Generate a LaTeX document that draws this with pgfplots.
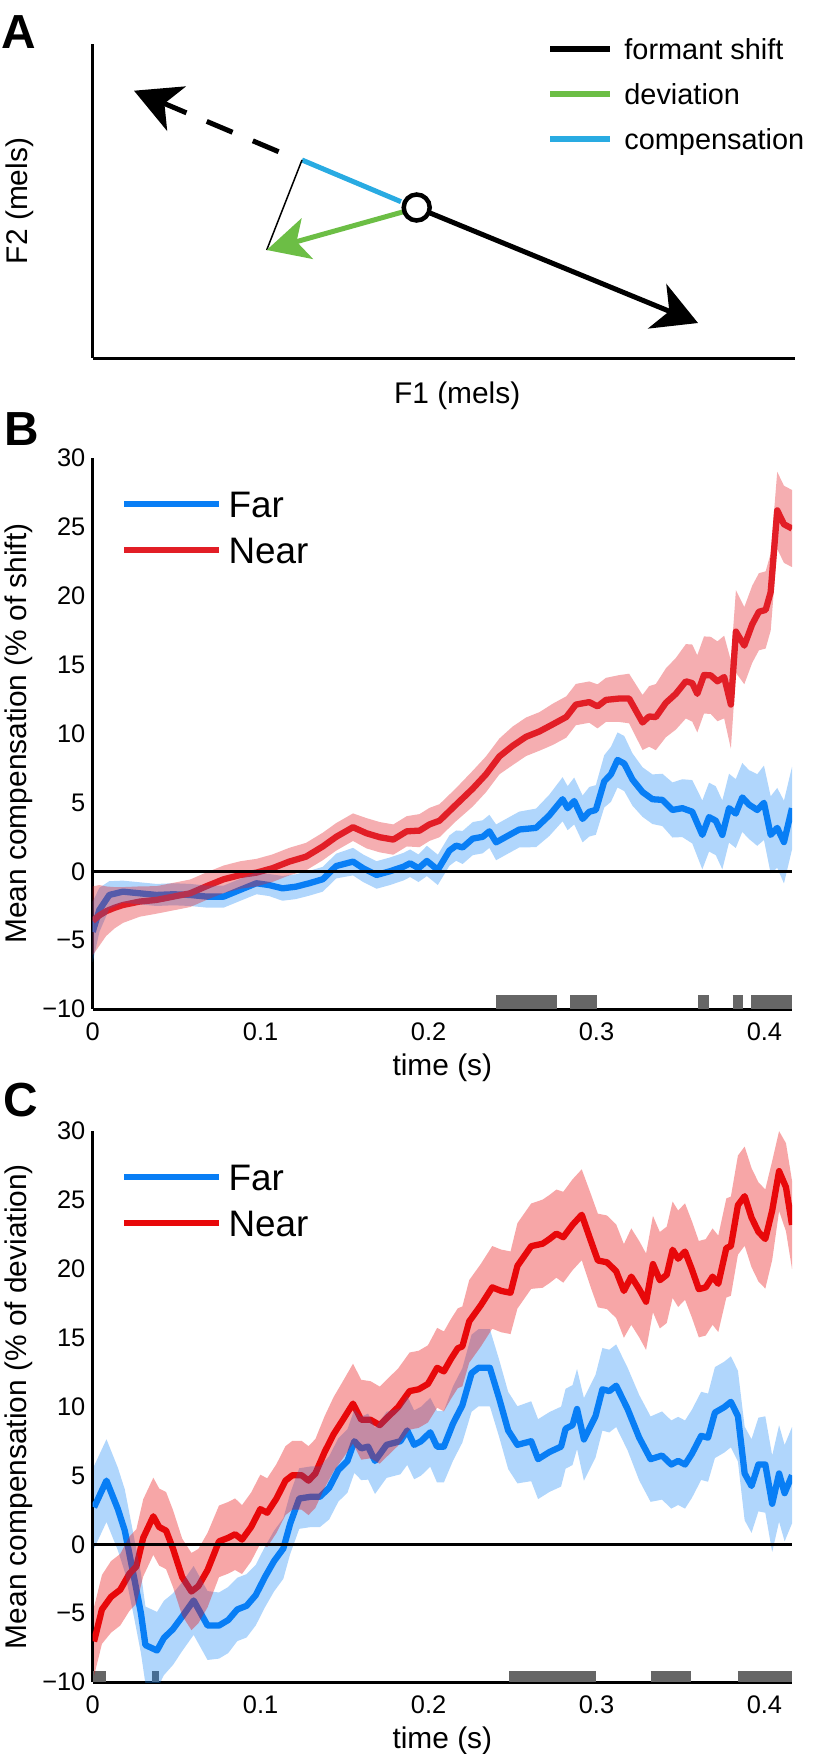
\documentclass[border=0pt]{standalone}
\usepackage{fontspec}
\setmainfont{Liberation Sans}
\usepackage{pgfplots}
\usepackage{pgfplotstable}
\pgfplotsset{compat=1.18}
\usetikzlibrary{arrows.meta}

\definecolor{cblue}{RGB}{8,126,245}
\definecolor{credB}{RGB}{226,30,38}
\definecolor{credC}{RGB}{232,8,10}
\definecolor{sgray}{RGB}{102,102,102}
\definecolor{cgreen}{RGB}{108,190,69}
\definecolor{ccyan}{RGB}{41,171,226}

\pgfplotstableread{
t v e
0.000 -4.4 2.2
0.004 -2.8 1.6
0.0099 -1.72 1.0
0.018 -1.48 0.8
0.028 -1.6 0.8
0.038 -1.72 0.8
0.048 -1.67 0.8
0.058 -1.72 0.8
0.068 -1.84 0.8
0.078 -1.84 0.8
0.0876 -1.36 0.8
0.0975 -0.87 0.8
0.105 -1.0 0.8
0.113 -1.24 0.9
0.121 -1.12 0.9
0.129 -0.87 0.9
0.137 -0.58 0.9
0.145 0.38 0.9
0.155 0.7 1.0
0.161 0.22 1.0
0.169 -0.27 1.0
0.177 0.0 1.0
0.185 0.33 1.0
0.189 0.58 1.0
0.194 0.22 1.0
0.199 0.75 1.1
0.2055 0.1 1.1
0.2124 1.5 1.1
0.2164 1.86 1.1
0.2203 1.73 1.2
0.2263 2.37 1.2
0.2322 2.5 1.2
0.2362 2.9 1.2
0.2402 2.1 1.3
0.2461 2.5 1.3
0.254 3.03 1.3
0.264 3.15 1.4
0.2719 4.06 1.5
0.2798 5.23 1.6
0.2828 4.58 1.6
0.2867 5.1 1.7
0.2917 3.8 1.7
0.2957 4.32 1.8
0.2996 4.45 1.8
0.3046 6.53 1.9
0.3086 7.04 2.0
0.3125 8.08 2.0
0.3165 7.82 2.0
0.3214 6.66 1.9
0.3274 5.75 1.8
0.3333 5.23 1.8
0.3392 5.18 1.9
0.3452 4.45 2.0
0.3511 4.58 2.1
0.357 4.32 2.3
0.363 2.64 2.5
0.367 3.93 2.5
0.371 3.67 2.5
0.3749 2.64 2.5
0.3789 4.58 2.5
0.3829 4.19 2.5
0.3868 5.36 2.5
0.3908 4.84 2.5
0.3957 4.45 2.6
0.3997 4.97 2.7
0.4037 2.64 2.8
0.4076 3.15 2.9
0.4116 2.12 3.0
0.4164 4.58 3.0
}\BFar

\pgfplotstableread{
t v e
0.000 -3.6 2.5
0.004 -3.2 2.2
0.008 -2.9 1.8
0.013 -2.65 1.5
0.018 -2.45 1.3
0.028 -2.2 1.1
0.038 -2.08 1.0
0.048 -1.84 1.0
0.058 -1.6 1.0
0.068 -1.07 1.0
0.078 -0.58 1.0
0.088 -0.27 1.0
0.0975 -0.1 1.0
0.107 0.22 1.0
0.117 0.7 1.0
0.127 1.06 1.0
0.137 1.8 1.0
0.145 2.5 1.0
0.155 3.2 1.0
0.163 2.76 1.1
0.171 2.47 1.1
0.179 2.3 1.1
0.187 2.9 1.1
0.1946 2.95 1.2
0.2005 3.4 1.2
0.2065 3.67 1.2
0.2164 4.84 1.2
0.2263 6.0 1.3
0.2342 7.04 1.3
0.2422 8.34 1.3
0.25 9.1 1.4
0.258 9.76 1.4
0.266 10.15 1.4
0.274 10.67 1.5
0.282 11.2 1.5
0.2877 12.1 1.5
0.2957 12.28 1.5
0.3006 11.97 1.6
0.3056 12.44 1.6
0.3135 12.54 1.7
0.3194 12.54 1.8
0.3274 10.8 2.0
0.3313 11.24 2.2
0.3353 11.19 2.4
0.3413 12.23 2.5
0.3472 12.88 2.6
0.3532 13.79 2.7
0.357 13.66 2.8
0.36 12.88 2.8
0.364 14.25 2.8
0.368 14.22 2.8
0.372 13.79 2.9
0.376 14.1 3.0
0.380 12.1 3.2
0.383 17.4 3.0
0.388 16.38 2.8
0.3927 17.93 2.8
0.3967 18.84 2.8
0.4007 18.97 2.8
0.4037 20.27 2.8
0.4076 26.2 2.8
0.4116 25.19 2.8
0.4164 24.88 2.8
}\BNear

\pgfplotstableread{
t v e
0.0008 2.68 3.0
0.0082 4.62 3.0
0.015 2.55 3.0
0.0191 0.99 3.0
0.0246 -2.39 2.9
0.0287 -4.99 2.9
0.0314 -7.32 2.8
0.0383 -7.71 2.8
0.0424 -6.8 2.7
0.0478 -6.16 2.6
0.0533 -5.25 2.5
0.0601 -4.08 2.5
0.0684 -5.9 2.5
0.0752 -5.9 2.4
0.0807 -5.5 2.4
0.0861 -4.73 2.3
0.0916 -4.47 2.3
0.0971 -3.69 2.2
0.1025 -2.39 2.2
0.108 -1.22 2.2
0.1135 -0.31 2.2
0.1176 1.5 2.2
0.123 3.32 2.2
0.1299 3.45 2.2
0.1353 3.45 2.2
0.1408 4.1 2.3
0.1463 5.4 2.3
0.1517 6.05 2.3
0.1558 7.48 2.3
0.1599 6.96 2.3
0.164 7.09 2.4
0.1681 6.05 2.4
0.175 7.22 2.4
0.1832 7.48 2.4
0.1873 8.26 2.5
0.1914 7.22 2.5
0.1955 7.48 2.5
0.201 8.13 2.5
0.205 7.09 2.6
0.2091 7.09 2.6
0.2146 8.78 2.7
0.2201 10.08 2.7
0.2256 12.42 2.8
0.2297 12.81 2.8
0.2365 12.81 2.8
0.242 10.6 2.8
0.2474 8.26 2.8
0.2529 7.22 2.8
0.2611 7.48 2.9
0.2652 6.18 2.9
0.272 6.7 2.9
0.2789 7.09 2.9
0.2816 8.39 2.9
0.2857 8.65 2.9
0.2884 9.82 2.9
0.2925 7.61 3.0
0.2994 9.3 3.0
0.3035 11.25 3.0
0.3076 11.12 3.0
0.3117 11.51 3.0
0.3185 9.82 3.0
0.3254 7.74 3.1
0.3322 6.18 3.1
0.339 6.44 3.2
0.3445 5.79 3.2
0.3486 6.05 3.2
0.3527 5.79 3.2
0.3568 6.57 3.2
0.3623 7.87 3.2
0.3664 7.74 3.2
0.3705 9.56 3.3
0.376 9.95 3.3
0.38 10.34 3.3
0.3842 9.3 3.3
0.3882 5.14 3.4
0.3923 4.23 3.4
0.3964 5.79 3.4
0.4005 5.79 3.5
0.4046 2.94 3.5
0.4087 5.14 3.5
0.412 3.71 3.5
0.4164 5.01 3.5
}\CFar

\pgfplotstableread{
t v e
0.0008 -7.06 2.5
0.0055 -4.73 2.5
0.0109 -3.82 2.6
0.0164 -3.3 2.6
0.0219 -2.13 2.7
0.026 -1.61 2.7
0.0301 0.47 2.8
0.0361 2.03 2.8
0.0396 1.25 2.8
0.0437 0.99 2.8
0.0478 -0.31 2.8
0.0533 -2.39 2.8
0.0588 -3.43 2.8
0.0629 -3.04 2.7
0.0684 -1.87 2.7
0.0752 0.21 2.6
0.0807 0.47 2.6
0.0848 0.73 2.6
0.0889 0.34 2.5
0.0943 1.25 2.5
0.0998 2.55 2.5
0.1039 2.29 2.5
0.1094 3.32 2.5
0.1148 4.62 2.5
0.1189 5.01 2.5
0.1244 5.01 2.5
0.1285 4.62 2.5
0.1326 5.14 2.5
0.1381 6.7 2.6
0.1435 8.0 2.7
0.149 9.04 2.8
0.155 10.21 2.9
0.1599 9.04 2.9
0.1654 9.04 2.8
0.1709 8.65 2.8
0.1763 9.3 2.8
0.1818 9.95 2.8
0.1887 11.12 2.8
0.1941 11.25 2.8
0.1996 11.64 2.8
0.2051 12.81 2.9
0.2091 12.55 2.9
0.2133 13.45 2.9
0.2174 14.23 2.9
0.2201 14.36 2.9
0.2242 16.18 3.0
0.2311 17.35 3.0
0.2379 18.65 3.0
0.2433 18.39 3.0
0.2488 18.26 3.0
0.2529 20.21 3.1
0.2611 21.64 3.1
0.2679 21.82 3.2
0.272 22.16 3.2
0.2761 22.55 3.2
0.2802 22.29 3.3
0.2857 23.19 3.3
0.2912 23.92 3.3
0.2966 22.03 3.4
0.3008 20.6 3.4
0.3062 20.47 3.4
0.3117 19.82 3.4
0.3163 18.39 3.4
0.3207 19.43 3.5
0.3254 18.52 3.5
0.3295 17.61 3.5
0.3336 20.34 3.5
0.3377 19.17 3.5
0.3418 19.56 3.5
0.3453 21.38 3.5
0.3486 20.73 3.5
0.3527 21.25 3.5
0.3568 19.95 3.5
0.3609 18.52 3.5
0.365 18.65 3.5
0.3691 19.43 3.5
0.3725 18.91 3.5
0.3773 21.51 3.6
0.38 21.64 3.6
0.3842 24.62 3.6
0.3882 25.27 3.6
0.3923 23.71 3.6
0.3964 22.68 3.6
0.4005 22.16 3.6
0.4046 24.23 3.6
0.4087 27.09 2.9
0.4128 25.92 3.2
0.4164 23.19 3.2
}\CNear

\pgfplotsset{
  panel/.style={
    scale only axis, width=699.3bp, height=551bp,
    xmin=0, xmax=0.4164, ymin=-10, ymax=30,
    axis x line=bottom, axis y line=left,
    axis line style={-, line width=3bp},
    every outer x axis line/.append style={-},
    every outer y axis line/.append style={-},
    tick style={draw=none},
    xtick={0,0.1,0.2,0.3,0.4}, xticklabels={0,0.1,0.2,0.3,0.4},
    ytick={-10,-5,0,5,10,15,20,25,30},
    yticklabels={−10,−5,0,5,10,15,20,25,30},
    tick label style={font=\fontsize{25.5}{25.5}\selectfont, inner sep=0pt},
    yticklabel style={xshift=-5bp},
    xticklabel style={yshift=-11bp},
    xlabel style={at={(axis description cs:0.5,-0.107)}, anchor=center, font=\fontsize{30}{30}\selectfont, inner sep=0pt},
    ylabel style={at={(axis description cs:-0.1058,0.5)}, anchor=center, font=\fontsize{30}{30}\selectfont, inner sep=0pt},
    xlabel={time (s)},
    legend style={at={(axis description cs:0.0405,0.941)}, anchor=north west,
      draw=none, fill=none, inner sep=0pt, row sep=19bp, column sep=0pt,
      font=\fontsize{37}{37}\selectfont,
      nodes={inner sep=0pt, text height=27bp, text depth=0pt}},
    legend cell align=left,
    legend image code/.code={\draw[#1, line width=6.5bp] (0bp,0bp) -- (95bp,0bp); \path (101bp,0bp);},
  },
  bandax/.style={
    scale only axis, width=699.3bp, height=551bp,
    xmin=0, xmax=0.4164, ymin=-10, ymax=30, hide axis,
  },
  mline/.style={line width=6.3bp, line join=round},
  sigbar/.style={sgray, line cap=butt},
}

\begin{document}
\begin{tikzpicture}
\path[use as bounding box] (0,0) rectangle (814bp,-1754bp);

% Panel letters
\node[anchor=north west, inner sep=0pt, font=\fontsize{48}{48}\selectfont\bfseries] at (1bp,-15bp) {A};
\node[anchor=north west, inner sep=0pt, font=\fontsize{48}{48}\selectfont\bfseries] at (4bp,-412bp) {B};
\node[anchor=north west, inner sep=0pt, font=\fontsize{48}{48}\selectfont\bfseries] at (3bp,-1083bp) {C};

% ---------------- Panel A ----------------
\begin{axis}[
  at={(92.7bp,-358bp)}, anchor=south west,
  scale only axis, width=702.3bp, height=314bp,
  xmin=0, xmax=702.3, ymin=0, ymax=314,
  axis x line=bottom, axis y line=left,
  axis line style={-, line width=3bp},
  every outer x axis line/.append style={-},
  every outer y axis line/.append style={-},
  xtick=\empty, ytick=\empty,
  xlabel={F1 (mels)}, ylabel={F2 (mels)},
  xlabel style={at={(axis description cs:0.519,-0.121)}, anchor=center, font=\fontsize{30}{30}\selectfont, inner sep=0pt},
  ylabel style={at={(axis description cs:-0.1035,0.5)}, anchor=center, font=\fontsize{30}{30}\selectfont, inner sep=0pt},
  legend style={at={(axis description cs:0.6469,1.0166)}, anchor=north west,
    draw=none, fill=none, inner sep=0pt, row sep=24bp, column sep=0pt,
    font=\fontsize{29}{29}\selectfont,
    nodes={inner sep=0pt, text height=21bp, text depth=0pt}},
  legend cell align=left,
  legend image code/.code={\draw[#1, line width=6bp] (0bp,0bp) -- (60bp,0bp); \path (74bp,0bp);},
]
\addlegendimage{black}
\addlegendentry{formant shift}
\addlegendimage{cgreen}
\addlegendentry{deviation}
\addlegendimage{ccyan}
\addlegendentry{compensation}
\addplot[black, line width=5bp, -{Stealth[length=44bp, width=48bp, inset=13bp]}, forget plot]
  coordinates {(324,150.5) (605.3,35)};
\addplot[black, line width=5bp, dash pattern=on 28bp off 22bp, -{Stealth[length=46bp, width=48bp, inset=13bp]}, forget plot]
  coordinates {(185.9,206.3) (41.3,267.3)};
\addplot[ccyan, line width=5bp, forget plot] coordinates {(209.3,198) (308.3,156.3)};
\addplot[black, line width=1.5bp, forget plot] coordinates {(209.3,198) (174,108)};
\addplot[cgreen, line width=5bp, -{Stealth[length=42bp, width=42bp, inset=11bp]}, forget plot]
  coordinates {(310.9,146.3) (174,108)};
\addplot[only marks, mark=*, mark size=13bp, mark options={fill=white, draw=black, line width=4.5bp}, forget plot]
  coordinates {(324,150.5)};
\end{axis}

% ---------------- Panel B ----------------
\begin{axis}[panel, at={(92.7bp,-1009bp)}, anchor=south west,
  ylabel={Mean compensation (\% of shift)}]
\addplot[cblue, mline] table[x=t, y=v] {\BFar};
\addlegendentry{Far}
\addplot[credB, mline] table[x=t, y=v] {\BNear};
\addlegendentry{Near}
\addplot[sigbar, line width=13.8bp] coordinates {(0.240,-9.5) (0.2765,-9.5)};
\addplot[sigbar, line width=13.8bp] coordinates {(0.2845,-9.5) (0.3005,-9.5)};
\addplot[sigbar, line width=13.8bp] coordinates {(0.3605,-9.5) (0.367,-9.5)};
\addplot[sigbar, line width=13.8bp] coordinates {(0.381,-9.5) (0.3875,-9.5)};
\addplot[sigbar, line width=13.8bp] coordinates {(0.392,-9.5) (0.4164,-9.5)};
\end{axis}
\begin{axis}[bandax, at={(92.7bp,-1009bp)}, anchor=south west]
\addplot[stack plots=y, draw=none] table[x=t, y expr=\thisrow{v}-\thisrow{e}] {\BFar};
\addplot[stack plots=y, draw=none, fill=cblue, fill opacity=0.32] table[x=t, y expr=2*\thisrow{e}] {\BFar} \closedcycle;
\end{axis}
\begin{axis}[bandax, at={(92.7bp,-1009bp)}, anchor=south west]
\addplot[stack plots=y, draw=none] table[x=t, y expr=\thisrow{v}-\thisrow{e}] {\BNear};
\addplot[stack plots=y, draw=none, fill=credB, fill opacity=0.36] table[x=t, y expr=2*\thisrow{e}] {\BNear} \closedcycle;
\addplot[black, line width=3.5bp] coordinates {(0,0) (0.4164,0)};
\end{axis}

% ---------------- Panel C ----------------
\begin{axis}[panel, at={(92.7bp,-1682bp)}, anchor=south west,
  ylabel={Mean compensation (\% of deviation)}]
\addplot[cblue, mline] table[x=t, y=v] {\CFar};
\addlegendentry{Far}
\addplot[credC, mline] table[x=t, y=v] {\CNear};
\addlegendentry{Near}
\addplot[sigbar, line width=11bp] coordinates {(0,-9.6) (0.0077,-9.6)};
\addplot[sigbar, line width=11bp] coordinates {(0.0355,-9.6) (0.0396,-9.6)};
\addplot[sigbar, line width=11bp] coordinates {(0.248,-9.6) (0.2999,-9.6)};
\addplot[sigbar, line width=11bp] coordinates {(0.3322,-9.6) (0.356,-9.6)};
\addplot[sigbar, line width=11bp] coordinates {(0.3841,-9.6) (0.4164,-9.6)};
\end{axis}
\begin{axis}[bandax, at={(92.7bp,-1682bp)}, anchor=south west]
\addplot[stack plots=y, draw=none] table[x=t, y expr=\thisrow{v}-\thisrow{e}] {\CFar};
\addplot[stack plots=y, draw=none, fill=cblue, fill opacity=0.32] table[x=t, y expr=2*\thisrow{e}] {\CFar} \closedcycle;
\end{axis}
\begin{axis}[bandax, at={(92.7bp,-1682bp)}, anchor=south west]
\addplot[stack plots=y, draw=none] table[x=t, y expr=\thisrow{v}-\thisrow{e}] {\CNear};
\addplot[stack plots=y, draw=none, fill=credC, fill opacity=0.36] table[x=t, y expr=2*\thisrow{e}] {\CNear} \closedcycle;
\addplot[black, line width=3.5bp] coordinates {(0,0) (0.4164,0)};
\end{axis}
\end{tikzpicture}
\end{document}
